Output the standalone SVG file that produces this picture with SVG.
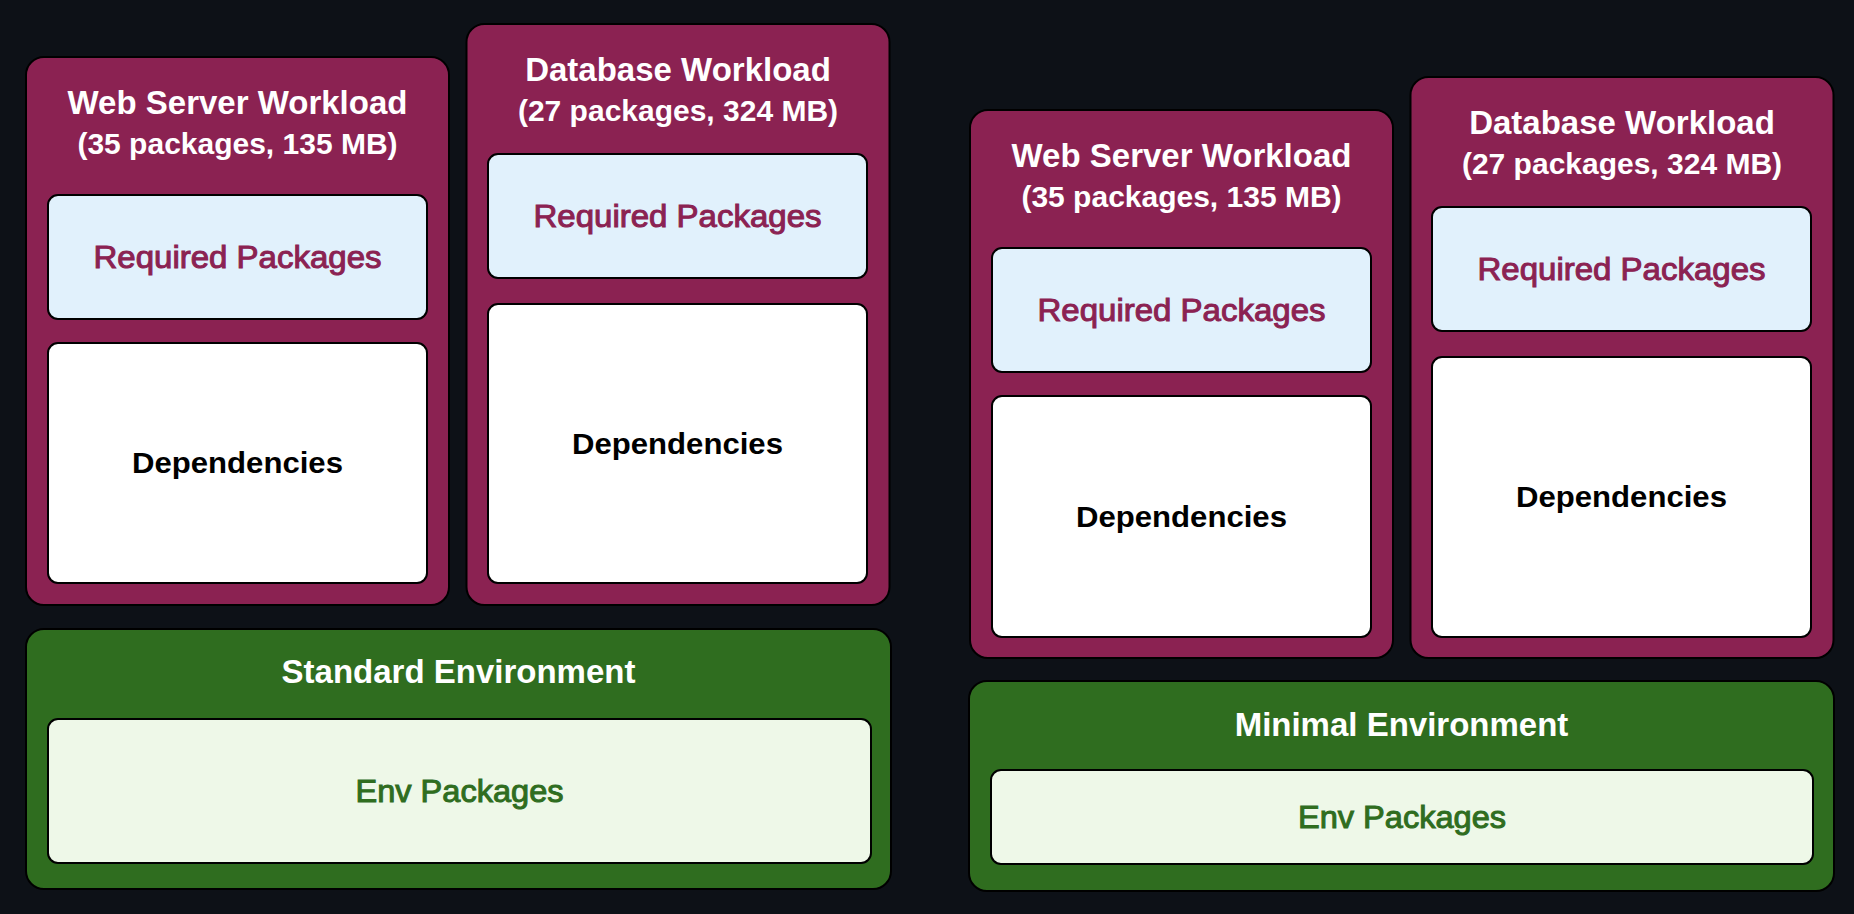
<svg xmlns="http://www.w3.org/2000/svg" width="1854" height="914" viewBox="0 0 1854 914">
  <style>
    .wl { fill: #8B2252; stroke: #000; stroke-width: 2; }
    .env { fill: #2F6D1F; stroke: #000; stroke-width: 2; }
    .req { fill: #E1F1FC; stroke: #000; stroke-width: 2; }
    .dep { fill: #FFFFFF; stroke: #000; stroke-width: 2; }
    .envp { fill: #EEF8E8; stroke: #000; stroke-width: 2; }
    text { font-family: "Liberation Sans", Arial, Helvetica, sans-serif; text-anchor: middle; }
    .title { fill: #FFFFFF; font-weight: bold; font-size: 33px; }
    .sub { fill: #FFFFFF; font-weight: bold; font-size: 30px; }
    .reqt { fill: #8B2252; font-size: 31px; stroke: #8B2252; stroke-width: 1; }
    .dept { fill: #000; font-weight: bold; font-size: 30px; }
    .envt { fill: #2F6D1F; font-size: 31px; stroke: #2F6D1F; stroke-width: 1; }
  </style>
  <rect x="0" y="0" width="1854" height="914" fill="#0D1117"/>
  <g id="connectors"/>

  <!-- Left stack -->
  <g id="web-server-workload-standard">
    <rect class="wl" x="26" y="57" width="423" height="548" rx="18"/>
    <text class="title" x="237.5" y="114">Web Server Workload</text>
    <text class="sub" x="237.5" y="154">(35 packages, 135 MB)</text>
    <g id="web-required-standard">
      <rect class="req" x="48" y="195" width="379" height="124" rx="10"/>
      <text class="reqt" x="237.5" y="268" textLength="288" lengthAdjust="spacingAndGlyphs">Required Packages</text>
    </g>
    <g id="web-deps-standard">
      <rect class="dep" x="48" y="343" width="379" height="240" rx="10"/>
      <text class="dept" x="237.5" y="473" textLength="211" lengthAdjust="spacingAndGlyphs">Dependencies</text>
    </g>
  </g>

  <g id="database-workload-standard">
    <rect class="wl" x="466.5" y="24" width="423" height="581" rx="18"/>
    <text class="title" x="678" y="81">Database Workload</text>
    <text class="sub" x="678" y="121">(27 packages, 324 MB)</text>
    <g id="db-required-standard">
      <rect class="req" x="488" y="154" width="379" height="124" rx="10"/>
      <text class="reqt" x="677.5" y="227" textLength="288" lengthAdjust="spacingAndGlyphs">Required Packages</text>
    </g>
    <g id="db-deps-standard">
      <rect class="dep" x="488" y="304" width="379" height="279" rx="10"/>
      <text class="dept" x="677.5" y="454" textLength="211" lengthAdjust="spacingAndGlyphs">Dependencies</text>
    </g>
  </g>

  <g id="standard-environment">
    <rect class="env" x="26" y="629" width="865" height="260" rx="18"/>
    <text class="title" x="458.5" y="683">Standard Environment</text>
    <g id="standard-env-packages">
      <rect class="envp" x="48" y="719" width="823" height="144" rx="10"/>
      <text class="envt" x="459.5" y="802" textLength="208" lengthAdjust="spacingAndGlyphs">Env Packages</text>
    </g>
  </g>

  <!-- Right stack -->
  <g id="web-server-workload-minimal">
    <rect class="wl" x="970" y="110" width="423" height="548" rx="18"/>
    <text class="title" x="1181.5" y="167">Web Server Workload</text>
    <text class="sub" x="1181.5" y="207">(35 packages, 135 MB)</text>
    <g id="web-required-minimal">
      <rect class="req" x="992" y="248" width="379" height="124" rx="10"/>
      <text class="reqt" x="1181.5" y="321" textLength="288" lengthAdjust="spacingAndGlyphs">Required Packages</text>
    </g>
    <g id="web-deps-minimal">
      <rect class="dep" x="992" y="396" width="379" height="241" rx="10"/>
      <text class="dept" x="1181.5" y="527" textLength="211" lengthAdjust="spacingAndGlyphs">Dependencies</text>
    </g>
  </g>

  <g id="database-workload-minimal">
    <rect class="wl" x="1410.5" y="77" width="423" height="581" rx="18"/>
    <text class="title" x="1622" y="134">Database Workload</text>
    <text class="sub" x="1622" y="174">(27 packages, 324 MB)</text>
    <g id="db-required-minimal">
      <rect class="req" x="1432" y="207" width="379" height="124" rx="10"/>
      <text class="reqt" x="1621.5" y="280" textLength="288" lengthAdjust="spacingAndGlyphs">Required Packages</text>
    </g>
    <g id="db-deps-minimal">
      <rect class="dep" x="1432" y="357" width="379" height="280" rx="10"/>
      <text class="dept" x="1621.5" y="507" textLength="211" lengthAdjust="spacingAndGlyphs">Dependencies</text>
    </g>
  </g>

  <g id="minimal-environment">
    <rect class="env" x="969" y="681" width="865" height="210" rx="18"/>
    <text class="title" x="1401.5" y="736">Minimal Environment</text>
    <g id="minimal-env-packages">
      <rect class="envp" x="991" y="770" width="822" height="94" rx="10"/>
      <text class="envt" x="1402" y="828" textLength="208" lengthAdjust="spacingAndGlyphs">Env Packages</text>
    </g>
  </g>
</svg>
